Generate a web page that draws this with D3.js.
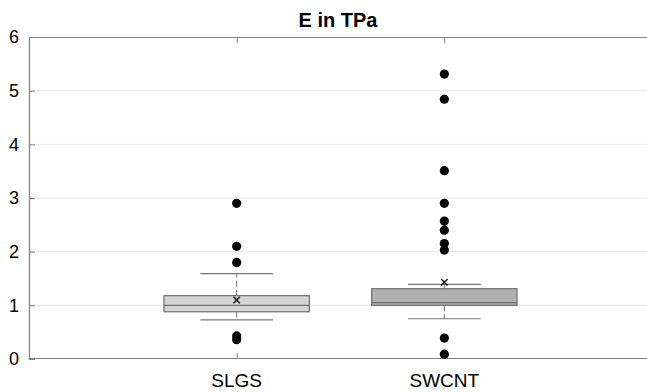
<!DOCTYPE html>
<html>
<head>
<meta charset="utf-8">
<script src="https://cdn.jsdelivr.net/npm/d3@7"></script>
<style>
  body { margin:0; background:#fff; }
  svg { display:block; font-family: "Liberation Sans", Arial, sans-serif; }
</style>
</head>
<body>
<div id="chart"></div>
<script>
const width = 647, height = 392;

// data
const groups = ["SLGS", "SWCNT"];
const lowerWhisker = [0.73, 0.75];
const q1 = [0.88, 1.0];
const medians = [1.0, 1.05];
const q3 = [1.18, 1.31];
const upperWhisker = [1.59, 1.39];
const means = [1.1, 1.43];
const outliers = [
  [2.9, 2.1, 1.8, 0.43, 0.36],
  [5.31, 4.84, 3.51, 2.9, 2.57, 2.4, 2.15, 2.03, 0.39, 0.09]
];
const fills = ["#d4d4d4", "#b1b1b1"];
const yTicks = [0, 1, 2, 3, 4, 5, 6];

const margin = {left: 29, top: 37, bottom: 33};

const x = d3.scaleLinear().domain([0, 3]).range([margin.left, 652]);
const y = d3.scaleLinear().domain([0, 6]).range([height - margin.bottom, margin.top]);

const svg = d3.select("#chart").append("svg")
  .attr("width", width).attr("height", height);

// grid
svg.append("g").selectAll("line")
  .data(yTicks.slice(1, -1))
  .join("line")
  .attr("x1", margin.left).attr("x2", width)
  .attr("y1", d => y(d)).attr("y2", d => y(d))
  .attr("stroke", "#e6e6e6").attr("stroke-width", 1);

// axes
const axisCol = "#808080";
const yAxis = svg.append("g")
  .attr("transform", `translate(${margin.left},0)`)
  .call(d3.axisRight(y).tickValues(yTicks).tickSize(6).tickFormat(""));
const xBottom = svg.append("g")
  .attr("transform", `translate(0,${y(0)})`)
  .call(d3.axisTop(x).tickValues([1, 2]).tickSize(6).tickFormat(""));
const xTop = svg.append("g")
  .attr("transform", `translate(0,${y(6)})`)
  .call(d3.axisBottom(x).tickValues([1, 2]).tickSize(6).tickFormat(""));
[yAxis, xBottom, xTop].forEach(g => {
  g.select(".domain").attr("stroke", axisCol).attr("stroke-width", 1.2);
  g.selectAll(".tick line").attr("stroke", axisCol);
});
xTop.select(".domain").attr("d", `M${margin.left},0.5H${width}`);
xBottom.select(".domain").attr("d", `M${margin.left},-0.5H${width}`);

// y labels
svg.append("g").selectAll("text")
  .data(yTicks)
  .join("text")
  .attr("x", margin.left - 10)
  .attr("y", d => y(d))
  .attr("dy", "0.36em")
  .attr("text-anchor", "end")
  .attr("font-size", 18)
  .text(d => d);

// x labels
svg.append("g").selectAll("text")
  .data(groups)
  .join("text")
  .attr("x", (d, i) => x(i + 1))
  .attr("y", 387)
  .attr("text-anchor", "middle")
  .attr("font-size", 19)
  .text(d => d);

// title
svg.append("text")
  .attr("x", 338).attr("y", 27)
  .attr("text-anchor", "middle")
  .attr("font-size", 20)
  .attr("font-weight", "bold")
  .text("E in TPa");

const boxW = 0.7, capW = 0.35;
const boxes = svg.append("g").selectAll("g")
  .data(groups)
  .join("g");

boxes.each(function(d, i) {
  const g = d3.select(this);
  const cx = x(i + 1);
  // whiskers
  g.append("line")
    .attr("x1", cx).attr("x2", cx)
    .attr("y1", y(q3[i])).attr("y2", y(upperWhisker[i]))
    .attr("stroke", "#707070").attr("stroke-dasharray", "6,3");
  g.append("line")
    .attr("x1", cx).attr("x2", cx)
    .attr("y1", y(q1[i])).attr("y2", y(lowerWhisker[i]))
    .attr("stroke", "#707070").attr("stroke-dasharray", "6,3");
  [upperWhisker[i], lowerWhisker[i]].forEach(v => {
    g.append("line")
      .attr("x1", x(i + 1 - capW / 2)).attr("x2", x(i + 1 + capW / 2))
      .attr("y1", y(v)).attr("y2", y(v))
      .attr("stroke", "#777").attr("stroke-width", 1.2);
  });
  // box
  g.append("rect")
    .attr("x", x(i + 1 - boxW / 2))
    .attr("width", x(i + 1 + boxW / 2) - x(i + 1 - boxW / 2))
    .attr("y", y(q3[i]))
    .attr("height", y(q1[i]) - y(q3[i]))
    .attr("fill", fills[i])
    .attr("stroke", "#6e6e6e").attr("stroke-width", 1.2);
  // median
  g.append("line")
    .attr("x1", x(i + 1 - boxW / 2)).attr("x2", x(i + 1 + boxW / 2))
    .attr("y1", y(medians[i])).attr("y2", y(medians[i]))
    .attr("stroke", "#6e6e6e").attr("stroke-width", 1.2);
  // outliers
  g.selectAll("circle")
    .data(outliers[i])
    .join("circle")
    .attr("cx", cx).attr("cy", v => y(v))
    .attr("r", 4.6).attr("fill", "#000");
  // mean marker
  const my = y(means[i]), s = 3.2;
  g.append("path")
    .attr("d", `M${cx - s},${my - s}L${cx + s},${my + s}M${cx - s},${my + s}L${cx + s},${my - s}`)
    .attr("stroke", "#111").attr("stroke-width", 1.4);
});
</script>
</body>
</html>
